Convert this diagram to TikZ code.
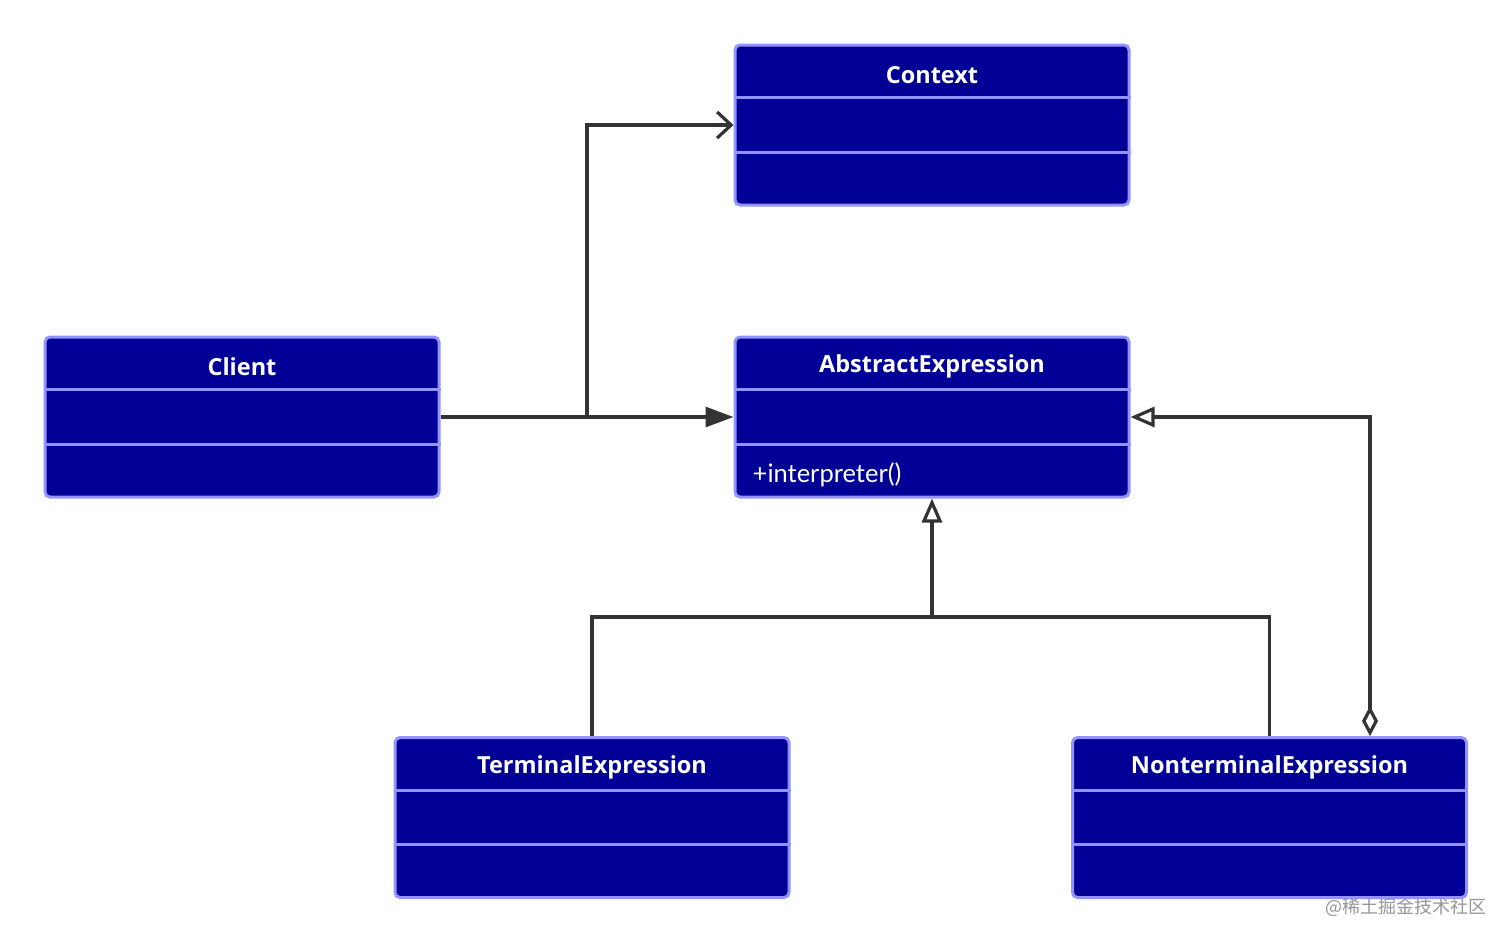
\documentclass[tikz,border=0pt]{standalone}
\usepackage{fontspec}
\setmainfont{Lato}
\newfontfamily\titlefont{Open Sans}
\newfontfamily\cjkfont{Noto Sans CJK SC}
\usetikzlibrary{arrows.meta,calc}
\definecolor{boxfill}{RGB}{0,0,150}
\definecolor{boxedge}{RGB}{147,147,255}
\definecolor{linegray}{RGB}{51,51,51}
\definecolor{wmgray}{RGB}{150,150,150}
\tikzset{
  classbox/.style={draw=boxedge, fill=boxfill, line width=3pt, rounded corners=5pt,
    minimum width=394pt, minimum height=160pt, inner sep=0pt},
  divider/.style={draw=boxedge, line width=3pt},
  titletext/.style={text=white, font=\titlefont\fontsize{23.5}{27}\selectfont\bfseries, inner sep=0pt},
  membertext/.style={text=white, font=\fontsize{25.5}{28}\selectfont, inner sep=0pt, anchor=west},
  conn/.style={draw=linegray, line width=3.2pt},
  assoc/.style={conn, -{Triangle[length=28pt, width=20pt]}},
  dep/.style={conn, -{Straight Barb[length=14pt, width=26pt]}},
  gen/.style={conn, -{Triangle[open, length=24pt, width=20pt, fill=white]}},
  agg/.style={conn, {Diamond[open, length=30pt, width=16pt, fill=white]}-{Triangle[open, length=24pt, width=20pt, fill=white]}},
}
\newcommand{\umlclass}[4]{%
  \node[classbox] (#1) at (#2) {};
  \draw[divider] ($(#1.north west)!1/3!(#1.south west)$) -- ($(#1.north east)!1/3!(#1.south east)$);
  \draw[divider] ($(#1.north west)!2/3!(#1.south west)$) -- ($(#1.north east)!2/3!(#1.south east)$);
  \node[titletext] (#1t) at ($(#1.north)!1/6!(#1.south) + (0,4)$) {#3};
}
\begin{document}
\begin{tikzpicture}[x=1pt, y=-1pt]
\useasboundingbox (0,0) rectangle (1512,943);
\umlclass{ctx}{932,125}{Context}{}
\umlclass{cli}{242,417}{Client}{}
\umlclass{abs}{932,417}{AbstractExpression}{}
\umlclass{term}{592,817.5}{TerminalExpression}{}
\umlclass{nonterm}{1269.5,817.5}{NonterminalExpression}{}
\node[membertext] (absm) at ($(abs.north west)!5/6!(abs.south west) + (19,3)$) {+interpreter()};
% connectors
\coordinate (j1) at (587,417);
\coordinate (bus) at (932,617);
\draw[assoc] (cli.east) -- (abs.west);
\draw[dep] (j1) |- (ctx.west);
\draw[conn] (term.north) |- (bus) -| (nonterm.north);
\draw[gen] (bus) -- (abs.south);
\draw[agg] ([xshift=100.5pt]nonterm.north) |- (abs.east);
\node[text=wmgray, font=\cjkfont\fontsize{18}{20}\selectfont, anchor=east, inner sep=0pt] (wm) at (1487,907) {@稀土掘金技术社区};
\end{tikzpicture}
\end{document}
